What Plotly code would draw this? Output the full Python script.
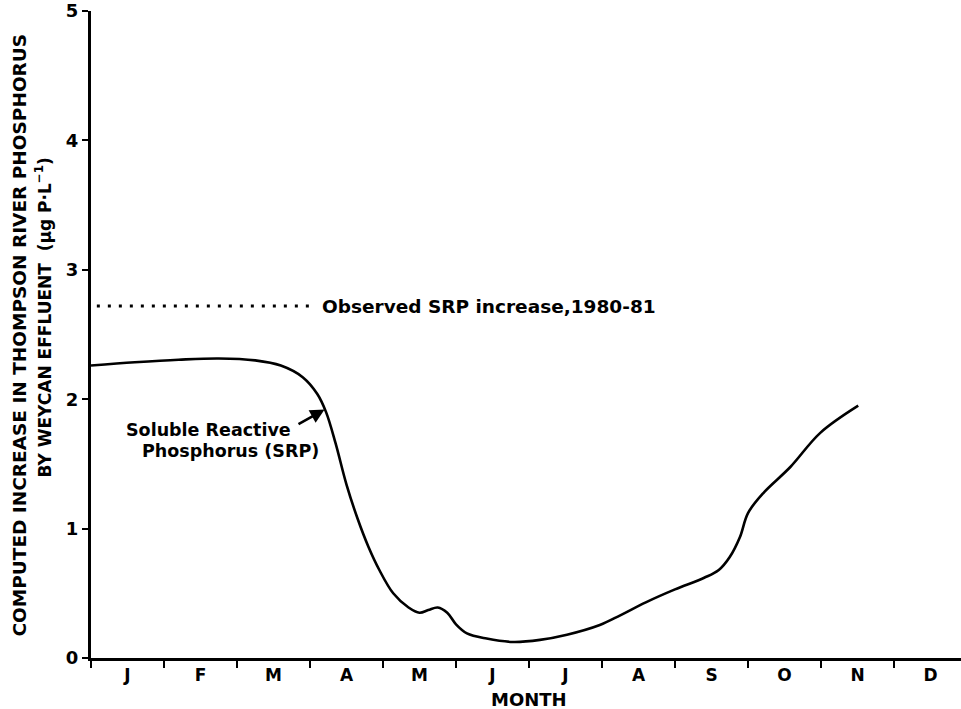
import plotly.graph_objects as go

# Month axis: positions are decimal months since 1 January (0 = start of Jan)
month_labels = ["J", "F", "M", "A", "M", "J", "J", "A", "S", "O", "N", "D"]
month_centers = [i + 0.5 for i in range(12)]

# Computed SRP increase (µg P/L) along the year
srp_month = [0.0, 0.6, 1.2, 1.75, 2.25, 2.6, 2.9, 3.1, 3.22, 3.35, 3.5, 3.65,
             3.8, 3.95, 4.14, 4.35, 4.5, 4.62, 4.75, 4.88, 5.0, 5.15, 5.42, 5.78,
             6.15, 6.52, 6.97, 7.25, 7.6, 8.0, 8.4, 8.6, 8.75, 8.89, 9.0, 9.21,
             9.58, 9.99, 10.51]
srp_value = [2.26, 2.285, 2.305, 2.315, 2.30, 2.26, 2.17, 2.04, 1.90, 1.66, 1.34, 1.08,
             0.86, 0.68, 0.50, 0.39, 0.35, 0.37, 0.39, 0.35, 0.26, 0.19, 0.15, 0.124,
             0.14, 0.18, 0.255, 0.33, 0.43, 0.53, 0.62, 0.68, 0.78, 0.935, 1.12, 1.275,
             1.476, 1.74, 1.95]

# Observed SRP increase, 1980-81 (reference level)
observed_month = [0.08, 3.02]
observed_value = [2.72, 2.72]

FONT = "DejaVu Sans"

fig = go.Figure()

fig.add_trace(go.Scatter(
    x=observed_month, y=observed_value, mode="lines",
    line=dict(color="black", width=3, dash="3px,8px"),
    hoverinfo="skip", showlegend=False,
))

fig.add_trace(go.Scatter(
    x=srp_month, y=srp_value, mode="lines",
    line=dict(color="black", width=2.6, shape="spline", smoothing=1.0),
    showlegend=False,
))

annotations = [
    dict(text="Observed SRP increase,1980-81", x=3.14, y=2.72, xref="x", yref="y",
         xanchor="left", yanchor="middle", showarrow=False,
         font=dict(family=FONT, size=18.5, color="black", weight="bold")),
    dict(text="Soluble Reactive", x=(208.5 - 91) / 73, y=(658 - 430) / 129.4,
         xref="x", yref="y", xanchor="center", yanchor="middle", showarrow=False,
         font=dict(family=FONT, size=17.5, color="black", weight="bold")),
    dict(text="Phosphorus (SRP)", x=(230 - 91) / 73, y=(658 - 451) / 129.4,
         xref="x", yref="y", xanchor="center", yanchor="middle", showarrow=False,
         font=dict(family=FONT, size=17.5, color="black", weight="bold")),
    # arrow pointing at the SRP curve
    dict(text="", x=3.2, y=1.92, xref="x", yref="y",
         ax=(297 - 91) / 73, ay=(658 - 425) / 129.4, axref="x", ayref="y",
         showarrow=True, arrowhead=2, arrowsize=1.1, arrowwidth=2.6, arrowcolor="black"),
    dict(text="COMPUTED INCREASE IN THOMPSON RIVER PHOSPHORUS",
         x=(19 - 91) / 870, y=(658 - 335.5) / 647, xref="paper", yref="paper",
         xanchor="center", yanchor="middle", textangle=-90, showarrow=False,
         font=dict(family=FONT, size=18.5, color="black", weight="bold")),
    dict(text="BY WEYCAN EFFLUENT  (µg P·L<sup>−1</sup>)",
         x=(43 - 91) / 870, y=(658 - 317.5) / 647, xref="paper", yref="paper",
         xanchor="center", yanchor="middle", textangle=-90, showarrow=False,
         font=dict(family=FONT, size=17, color="black", weight="bold")),
    dict(text="MONTH", x=6.0, y=(658 - 699) / 647, xref="x", yref="paper",
         xanchor="center", yanchor="middle", showarrow=False,
         font=dict(family=FONT, size=18, color="black", weight="bold")),
]

fig.update_layout(
    width=961, height=709,
    margin=dict(l=91, r=0, t=11, b=51),
    paper_bgcolor="white", plot_bgcolor="white",
    annotations=annotations,
    showlegend=False,
)

fig.update_xaxes(
    range=[0, 870 / 73], showgrid=False, zeroline=False,
    showline=True, linecolor="black", linewidth=3,
    tickmode="array", tickvals=month_centers, ticktext=month_labels,
    ticks="", ticklabelstandoff=0,
    tickfont=dict(family=FONT, size=17, color="black", weight="bold"),
    minor=dict(ticks="outside", ticklen=7, tickwidth=2, tickcolor="black",
               tick0=0, dtick=1, showgrid=False),
)

fig.update_yaxes(
    range=[0, 5], showgrid=False, zeroline=False,
    showline=True, linecolor="black", linewidth=3,
    tickmode="array", tickvals=[0, 1, 2, 3, 4, 5],
    ticks="outside", ticklen=6, tickwidth=2, tickcolor="black",
    ticklabelstandoff=0,
    tickfont=dict(family=FONT, size=18, color="black", weight="bold"),
)

fig.write_html("out.html")
